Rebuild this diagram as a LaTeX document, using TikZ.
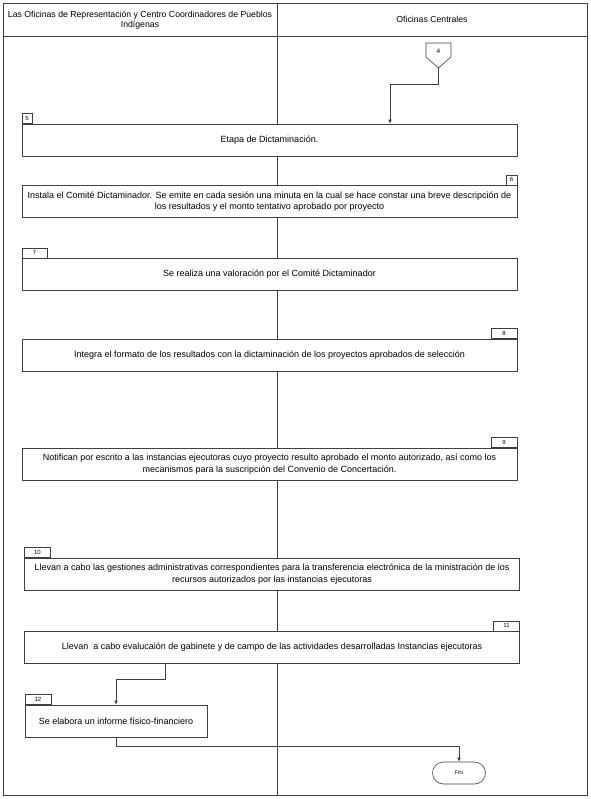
\documentclass[tikz,border=0pt]{standalone}
\usepackage{fontspec}
\setmainfont{Liberation Sans}
\usetikzlibrary{arrows.meta}
\begin{document}
\begin{tikzpicture}[x=1pt,y=-1pt,
  line width=0.6pt, draw=black!75,
  stepbox/.style={draw=black!75, fill=white, inner sep=0pt, align=center,
    font=\fontsize{9}{11.5}\selectfont, minimum height=32pt},
  numbox/.style={draw=black!75, fill=white, inner sep=0pt, minimum height=10pt,
    font=\fontsize{6}{7}\selectfont, anchor=south west},
  hdr/.style={align=center, font=\fontsize{8.7}{10.5}\selectfont},
  arr/.style={draw=black!75, -{Latex[length=4pt,width=3.5pt]}},
  con/.style={draw=black!75}
]
\useasboundingbox (0,0) rectangle (590,799);
% frame
\draw[black!75] (3,3) rectangle (587,795);
\draw[black!75] (3,36) -- (587,36);
\draw[black!75] (277,3) -- (277,795);
\node[hdr] (h1) at (140,20) {Las Oficinas de Representación y Centro Coordinadores de Pueblos\\Indígenas};
\node[hdr] (h2) at (432,19.5) {Oficinas Centrales};

% off-page connector 4
\draw[black!75, fill=white] (426,43) -- (451,43) -- (451,57) -- (438.5,68) -- (426,57) -- cycle;
\node[font=\fontsize{6.5}{7}\selectfont] (c4t) at (438.5,51) {4};
\coordinate (c4) at (438.5,68);

% steps
\node[stepbox, minimum width=495pt] (b5) at (269.5,140) {Etapa de Dictaminación.};
\node[stepbox, minimum width=495pt] (b6) at (269.5,201.5) {Instala el Comité Dictaminador. Se emite en cada sesión una minuta en la cual se hace constar una breve descripción de\\los resultados y el monto tentativo aprobado por proyecto};
\node[stepbox, minimum width=495pt] (b7) at (269.5,274.5) {Se realiza una valoración por el Comité Dictaminador};
\node[stepbox, minimum width=495pt] (b8) at (269.5,355) {Integra el formato de los resultados con la dictaminación de los proyectos aprobados de selección};
\node[stepbox, minimum width=495pt] (b9) at (269.5,464) {Notifican por escrito a las instancias ejecutoras cuyo proyecto resulto aprobado el monto autorizado, así como los\\mecanismos para la suscripción del Convenio de Concertación.};
\node[stepbox, minimum width=495pt] (b10) at (272,574) {Llevan a cabo las gestiones administrativas correspondientes para la transferencia electrónica de la ministración de los\\recursos autorizados por las instancias ejecutoras};
\node[stepbox, minimum width=495pt] (b11) at (272,647.5) {Llevan \ a cabo evalucaión de gabinete y de campo de las actividades desarrolladas Instancias ejecutoras};
\node[stepbox, minimum width=182pt] (b12) at (116,721) {Se elabora un informe físico-financiero};
\node[draw=black!75, fill=white, rounded corners=11pt, minimum width=53pt, minimum height=22pt, inner sep=0pt,
  font=\fontsize{5}{6}\selectfont] (fin) at (459,773) {FIN};

% number labels
\node[numbox, minimum width=10pt] (n5) at (b5.north west) {5};
\node[numbox, minimum width=11pt, anchor=south east] (n6) at (b6.north east) {6};
\node[numbox, minimum width=25pt] (n7) at (b7.north west) {7};
\node[numbox, minimum width=26pt, anchor=south east] (n8) at (b8.north east) {8};
\node[numbox, minimum width=26pt, anchor=south east] (n9) at (b9.north east) {9};
\node[numbox, minimum width=26pt] (n10) at (b10.north west) {10};
\node[numbox, minimum width=26pt, anchor=south east] (n11) at (b11.north east) {11};
\node[numbox, minimum width=26pt] (n12) at (b12.north west) {12};

% connectors
\draw[arr] (c4) -- (438.5,84) -| (b5.north -| 390,0);
\draw[con] (b5.south -| 277,0) -- (b6.north -| 277,0);
\draw[con] (b6.south -| 277,0) -- (b7.north -| 277,0);
\draw[con] (b7.south -| 277,0) -- (b8.north -| 277,0);
\draw[con] (b8.south -| 277,0) -- (b9.north -| 277,0);
\draw[con] (b9.south -| 277,0) -- (b10.north -| 277,0);
\draw[con] (b10.south -| 277,0) -- (b11.north -| 277,0);
\draw[arr] (b11.south -| 165,0) -- (165,679) -| (b12.north);
\draw[arr] (b12.south) -- (116,746) -| (fin.north);
\end{tikzpicture}
\end{document}
